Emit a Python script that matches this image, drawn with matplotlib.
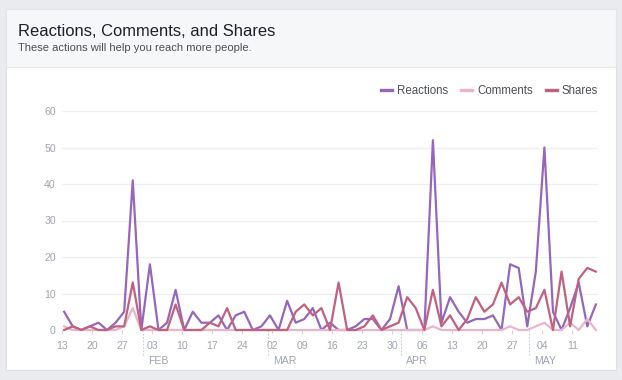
import numpy as np
import pandas as pd
import matplotlib
matplotlib.use("Agg")
import matplotlib.pyplot as plt
from matplotlib.patches import Rectangle
from matplotlib.lines import Line2D

plt.rcParams['font.family'] = ['Liberation Sans', 'DejaVu Sans']

# one point every 2 days, starting 13 Jan 2016 (plotted at midday)
start_date = '2016-01-13 12:00'
n_points = 63

reactions = [5, 1, 0, 1, 2, 0, 2, 5, 41, 0, 18, 0, 2, 11, 0, 5, 2, 2, 4, 0,
             4, 5, 0, 1, 4, 0, 8, 2, 3, 6, 0, 2, 0, 0, 1, 3, 3, 0, 3, 12,
             0, 0, 0, 52, 2, 9, 5, 2, 3, 3, 4, 0, 18, 17, 1, 16, 50, 5, 0, 6,
             13, 1, 7]
comments = [1, 0, 0, 0, 0, 0, 0, 1, 6, 0, 0, 0, 0, 0, 0, 0, 0, 0, 0, 0,
            0, 0, 0, 0, 0, 0, 0, 0, 0, 0, 0, 0, 0, 0, 0, 0, 0, 0, 0, 0,
            0, 0, 0, 1, 0, 0, 0, 0, 0, 0, 0, 0, 1, 0, 0, 1, 2, 0, 0, 2,
            0, 3, 0]
shares = [0, 1, 0, 1, 0, 0, 1, 1, 13, 0, 1, 0, 0, 7, 0, 0, 0, 2, 1, 6,
          0, 0, 0, 0, 0, 0, 0, 5, 7, 4, 6, 0, 13, 0, 0, 1, 4, 0, 1, 2,
          9, 6, 0, 11, 1, 4, 0, 3, 9, 5, 7, 13, 7, 9, 5, 6, 11, 0, 16, 1,
          14, 17, 16]

week_ticks = pd.date_range('2016-01-13', '2016-05-11', freq='7D')
month_starts = pd.to_datetime(['2016-02-01', '2016-03-01', '2016-04-01', '2016-05-01'])
month_names = ['FEB', 'MAR', 'APR', 'MAY']
y_ticks = [0, 10, 20, 30, 40, 50, 60]

dates = pd.date_range(start_date, periods=n_points, freq='2D')

c_react = '#9467bd'
c_comm = '#e9b5c9'
c_share = '#c0617d'
grey_txt = '#9ea4b3'

fig = plt.figure(figsize=(6.22, 3.80), dpi=100)
fig.patch.set_facecolor('#e9ebee')

# card + header band
fig.patches.append(Rectangle((6/622, 10/380), 610/622, 361/380, transform=fig.transFigure,
                             facecolor='white', edgecolor='#dddfe2', lw=0.8, zorder=-2))
fig.patches.append(Rectangle((6/622, (380-67)/380), 610/622, 58/380, transform=fig.transFigure,
                             facecolor='#f6f7f9', edgecolor='#e2e4e8', lw=0.8, zorder=-1))
fig.text(18/622, (380-31)/380, 'Reactions, Comments, and Shares', fontsize=11.9,
         color='#1d2129', va='center', ha='left')
fig.text(18/622, (380-48)/380, 'These actions will help you reach more people.', fontsize=8.0,
         color='#4b4f56', va='center', ha='left')

ax = fig.add_axes([62/622, 50/380, 536/622, 219/380])
ax.set_facecolor('none')
ax.set_zorder(2)

ax.plot(dates, reactions, color=c_react, lw=1.6, clip_on=False, zorder=3, label='Reactions')
ax.plot(dates, comments, color=c_comm, lw=1.6, clip_on=False, zorder=4, label='Comments')
ax.plot(dates, shares, color=c_share, lw=1.6, clip_on=False, zorder=5, label='Shares')

ax.set_ylim(0, 60)
ax.set_xlim(pd.Timestamp('2016-01-13'), pd.Timestamp('2016-05-17'))
ax.set_yticks(y_ticks)
ax.set_yticklabels([str(v) for v in y_ticks])
ax.yaxis.grid(True, color='#eceef1', lw=0.9)
ax.set_axisbelow(True)
for s in ax.spines.values():
    s.set_visible(False)

ax.set_xticks(week_ticks)
ax.set_xticklabels([d.strftime('%d') for d in week_ticks])
ax.tick_params(axis='x', length=3, width=0.8, color='#d3d6dc', pad=5,
               labelsize=7.6, labelcolor=grey_txt)
ax.tick_params(axis='y', length=0, pad=4.5, labelsize=7.6, labelcolor=grey_txt)

# month separators and names under the day labels
for m, name in zip(month_starts, month_names):
    ax.add_line(Line2D([m, m], [0, -0.12], transform=ax.get_xaxis_transform(),
                       color='#c8ccd3', lw=0.8, ls=(0, (1.5, 1.5)), clip_on=False))
    ax.text(m + pd.Timedelta(days=1.2), -0.142, name, transform=ax.get_xaxis_transform(),
            fontsize=7.6, color=grey_txt, va='center', ha='left')

leg = ax.legend(loc='lower right', bbox_to_anchor=(1.0, 1.065), ncol=3, frameon=False,
                fontsize=8.3, handlelength=0.95, handletextpad=0.45, columnspacing=1.1,
                labelcolor='#4b4f56', borderaxespad=0, borderpad=0)
for h in leg.get_lines():
    h.set_linewidth(2.4)

fig.savefig('out.png', dpi=100, facecolor=fig.get_facecolor())
